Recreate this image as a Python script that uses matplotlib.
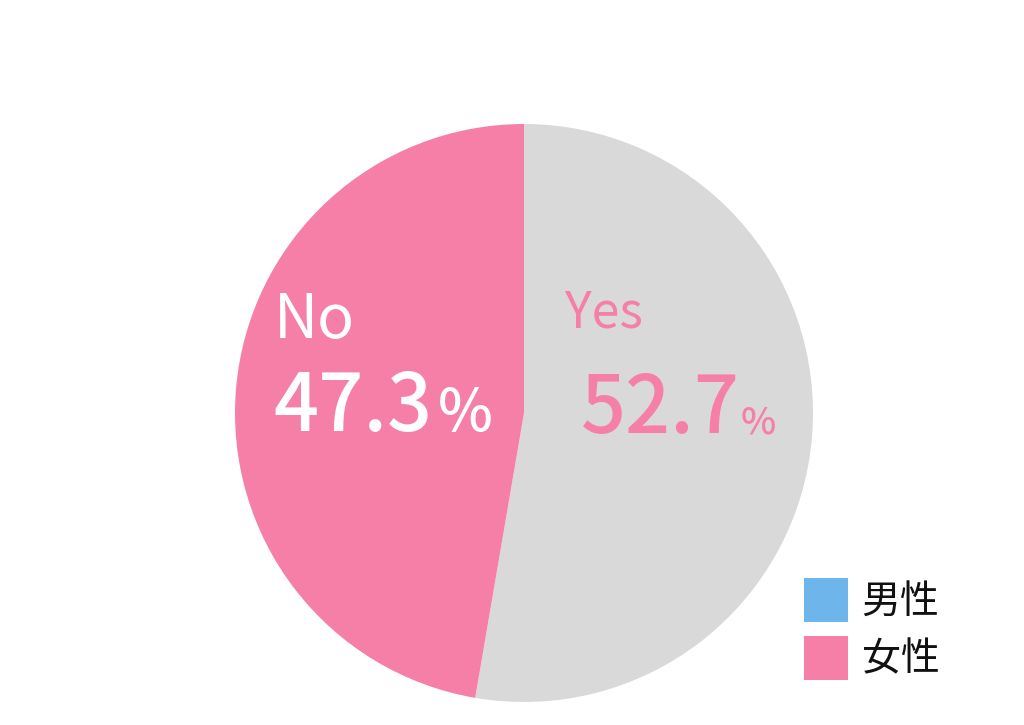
import matplotlib

matplotlib.use("Agg")

import matplotlib.pyplot as plt
from matplotlib.patches import Patch

plt.rcParams["font.family"] = ["Noto Sans CJK JP", "DejaVu Sans"]

# data
answers = ["Yes", "No"]
shares = [52.7, 47.3]
legend_labels = ["男性", "女性"]

COLORS = {
    "gray": "#D9D9D9",
    "pink": "#F67FA8",
    "blue": "#6DB5EA",
    "white": "#FFFFFF",
    "ink": "#111111",
}

W, H = 1024, 725
fig = plt.figure(figsize=(W / 100, H / 100), dpi=100)


def fx(px):
    return px / W


def fy(py):
    return 1 - py / H


# pie axes: centre (524, 413), radius ~289 px
r = 289
ax = fig.add_axes([fx(524 - r), fy(413 + r), 2 * r / W, 2 * r / H])
ax.pie(
    shares,
    colors=[COLORS["gray"], COLORS["pink"]],
    startangle=90,
    counterclock=False,
    radius=1.0,
    wedgeprops={"linewidth": 0},
)
ax.set_xlim(-1, 1)
ax.set_ylim(-1, 1)
ax.set_aspect("auto")
ax.axis("off")

# labels
yes_val, no_val = shares
fig.text(fx(274), fy(338), answers[1], fontsize=44, color=COLORS["white"],
         ha="left", va="baseline")
fig.text(fx(273), fy(431), f"{no_val:.1f}", fontsize=57, color=COLORS["white"],
         ha="left", va="baseline", weight="medium")
fig.text(fx(438), fy(431), "%", fontsize=42, color=COLORS["white"],
         ha="left", va="baseline", weight="medium")

fig.text(fx(565), fy(328), answers[0], fontsize=36, color=COLORS["pink"],
         ha="left", va="baseline")
fig.text(fx(581), fy(433), f"{yes_val:.1f}", fontsize=57, color=COLORS["pink"],
         ha="left", va="baseline", weight="medium")
fig.text(fx(741), fy(433), "%", fontsize=27, color=COLORS["pink"],
         ha="left", va="baseline", weight="medium")

# legend
handles = [
    Patch(facecolor=COLORS["blue"], edgecolor="none"),
    Patch(facecolor=COLORS["pink"], edgecolor="none"),
]
fig.legend(
    handles,
    legend_labels,
    loc="upper left",
    bbox_to_anchor=(fx(804), fy(578)),
    frameon=False,
    fontsize=28,
    handlelength=1.13,
    handleheight=1.365,
    handletextpad=0.35,
    labelspacing=0.35,
    borderpad=0,
    borderaxespad=0,
    labelcolor=COLORS["ink"],
)

fig.savefig("out.png", dpi=100, facecolor="white")
